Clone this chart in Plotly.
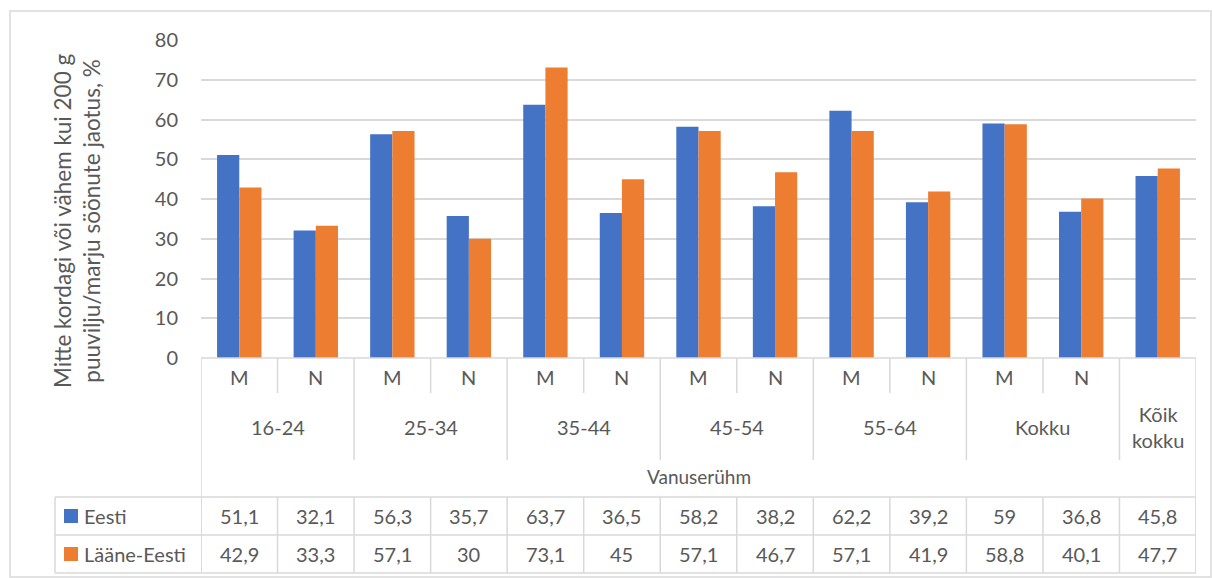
import plotly.graph_objects as go

# Data
sexes = ["M", "N", "M", "N", "M", "N", "M", "N", "M", "N", "M", "N", ""]
age_groups = ["16-24", "25-34", "35-44", "45-54", "55-64", "Kokku", "Kõik<br>kokku"]
group_span = [2, 2, 2, 2, 2, 2, 1]  # how many categories each age group covers
eesti = [51.1, 32.1, 56.3, 35.7, 63.7, 36.5, 58.2, 38.2, 62.2, 39.2, 59, 36.8, 45.8]
laane_eesti = [42.9, 33.3, 57.1, 30, 73.1, 45, 57.1, 46.7, 57.1, 41.9, 58.8, 40.1, 47.7]
series_names = ["Eesti", "Lääne-Eesti"]
y_ticks = [0, 10, 20, 30, 40, 50, 60, 70, 80]

colors = ["#4472C4", "#ED7D31"]
grey_txt = "#595959"
line_col = "#d9d9d9"
font_name = "Lato, Carlito, Calibri, sans-serif"

W, H = 1212, 578


# pixel -> paper helpers (margins are 0, so paper = whole figure)
def px(x):
    return x / W


def py(y):
    return 1 - y / H


def fmt(v):
    return str(v).replace(".", ",")


x_idx = list(range(len(sexes)))

fig = go.Figure()
for name, vals, col in zip(series_names, [eesti, laane_eesti], colors):
    fig.add_trace(go.Bar(name=name, x=x_idx, y=vals, marker=dict(color=col, line=dict(width=0))))

# plot area in pixels
plot_l, plot_r, plot_t, plot_b = 201, 1196, 40, 358

fig.update_layout(
    width=W, height=H,
    margin=dict(l=0, r=0, t=0, b=0, pad=0, autoexpand=False),
    paper_bgcolor="white", plot_bgcolor="white",
    barmode="group", bargap=0.42, bargroupgap=0,
    showlegend=False,
    font=dict(family=font_name, size=18, color=grey_txt),
    xaxis=dict(domain=[px(plot_l), px(plot_r)], range=[-0.5, len(sexes) - 0.5], automargin=False,
               showticklabels=False, showgrid=False, zeroline=False, fixedrange=True),
    yaxis=dict(domain=[py(plot_b), py(plot_t)], range=[0, 80], tickvals=y_ticks, automargin=False,
               showgrid=True, gridcolor=line_col, gridwidth=1.5, zeroline=False,
               ticklabelstandoff=22, tickfont=dict(size=20, color=grey_txt)),
)

shapes = []
ann = []


def label(x, y, text, xref="x", size=19, xanchor="center"):
    return dict(x=x, y=y, xref=xref, yref="paper", text=text, showarrow=False,
                xanchor=xanchor, yanchor="middle", font=dict(size=size, color=grey_txt))


# outer chart border
shapes.append(dict(type="rect", xref="paper", yref="paper", x0=px(10), x1=px(1211), y0=py(577), y1=py(11),
                   line=dict(color=line_col, width=1.5)))

# top line of the category area
shapes.append(dict(type="line", xref="paper", yref="paper", x0=px(plot_l), x1=px(plot_r),
                   y0=py(plot_b), y1=py(plot_b), line=dict(color=line_col, width=1.5)))

row1_bot, row2_bot, tab_top, tab_mid, tab_bot = 393, 460, 497, 535, 573

# vertical ticks between categories (short between M/N, longer between age groups)
bound = 0
group_edges = []
for s in group_span:
    bound += s
    group_edges.append(bound)
for i in range(len(sexes) + 1):
    xb = i - 0.5
    if i == 0 or i == len(sexes):
        y_end = tab_bot
    elif i in group_edges:
        y_end = row2_bot
    else:
        y_end = row1_bot
    shapes.append(dict(type="line", xref="x", yref="paper", x0=xb, x1=xb, y0=py(plot_b), y1=py(y_end),
                       line=dict(color=line_col, width=1.5)))
    # data table verticals
    shapes.append(dict(type="line", xref="x", yref="paper", x0=xb, x1=xb, y0=py(tab_top), y1=py(tab_bot),
                       line=dict(color=line_col, width=1.5)))

# data table horizontals and left legend column
for yy in [tab_top, tab_mid, tab_bot]:
    shapes.append(dict(type="line", xref="paper", yref="paper", x0=px(55), x1=px(plot_r), y0=py(yy), y1=py(yy),
                       line=dict(color=line_col, width=1.5)))
shapes.append(dict(type="line", xref="paper", yref="paper", x0=px(55), x1=px(55), y0=py(tab_top), y1=py(tab_bot),
                   line=dict(color=line_col, width=1.5)))

# category labels: sex
for i, s in enumerate(sexes):
    if s:
        ann.append(label(i, py(377), s, size=20))

# category labels: age groups
start = 0
for g, s in zip(age_groups, group_span):
    centre = start + (s - 1) / 2
    ann.append(label(centre, py(427), g, size=20))
    start += s

ann.append(label((len(sexes) - 1) / 2, py(476), "Vanuserühm", size=19))

# data table rows
row_y = [516, 554]
for name, vals, col, yy in zip(series_names, [eesti, laane_eesti], colors, row_y):
    shapes.append(dict(type="rect", xref="paper", yref="paper", x0=px(64), x1=px(78), y0=py(yy + 7), y1=py(yy - 7),
                       fillcolor=col, line=dict(width=0)))
    ann.append(label(px(82), py(yy), name, xref="paper", size=20, xanchor="left"))
    for i, v in enumerate(vals):
        ann.append(label(i, py(yy), fmt(v), size=20))

# y axis title
ann.append(dict(x=px(77), y=py(221), xref="paper", yref="paper",
                text="Mitte kordagi või vähem kui 200 g<br>puuvilju/marju söönute jaotus, %",
                showarrow=False, textangle=-90, xanchor="center", yanchor="middle",
                font=dict(size=22.5, color=grey_txt)))

fig.update_layout(shapes=shapes, annotations=ann)

fig.write_html("out.html", config={"displayModeBar": False},
               post_script="document.body.style.margin='0';document.body.style.overflow='hidden';")
